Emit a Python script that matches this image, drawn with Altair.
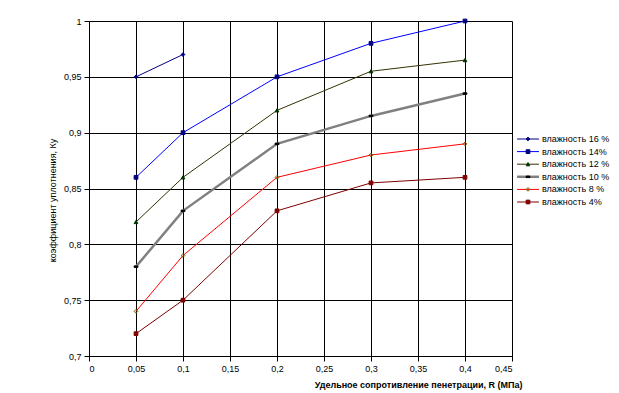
import altair as alt
import pandas as pd

series = ["влажность 16 %", "влажность 14%", "влажность 12 %",
          "влажность 10 %", "влажность 8 %", "влажность 4%"]
r16 = [0.05, 0.1]
k16 = [0.95, 0.97]
r_all = [0.05, 0.1, 0.2, 0.3, 0.4]
k14 = [0.86, 0.90, 0.95, 0.98, 1.0]
k12 = [0.82, 0.86, 0.92, 0.955, 0.965]
k10 = [0.78, 0.83, 0.89, 0.915, 0.935]
k8 = [0.74, 0.79, 0.86, 0.88, 0.89]
k4 = [0.72, 0.75, 0.83, 0.855, 0.86]

x_ticks = [0, 0.05, 0.1, 0.15, 0.2, 0.25, 0.3, 0.35, 0.4, 0.45]
y_ticks = [0.7, 0.75, 0.8, 0.85, 0.9, 0.95, 1.0]

line_colors = ["#000080", "#0000FF", "#333300", "#808080", "#FF0000", "#800000"]
shapes = ["diamond", "square", "triangle-up", "M-1,-0.4H1V0.4H-1Z", "diamond", "square"]
fills = ["#000080", "#000080", "#003300", "#000000", "transparent", "#800000"]
strokes = ["#000080", "#000080", "#003300", "#000000", "#666600", "#800000"]

rows = []
for name, xs, ys in [(series[0], r16, k16), (series[1], r_all, k14), (series[2], r_all, k12),
                     (series[3], r_all, k10), (series[4], r_all, k8), (series[5], r_all, k4)]:
    for x, y in zip(xs, ys):
        rows.append({"series": name, "R": x, "K": y})
df = pd.DataFrame(rows)
leg = pd.DataFrame({"series": series, "idx": list(range(len(series)))})

FONT = "Liberation Sans"

color = alt.Color("series:N", scale=alt.Scale(domain=series, range=line_colors), legend=None)
width_enc = alt.condition(alt.datum.series == series[3], alt.value(2.5), alt.value(1))
shape_enc = alt.Shape("series:N", scale=alt.Scale(domain=series, range=shapes), legend=None)
fill_enc = alt.Fill("series:N", scale=alt.Scale(domain=series, range=fills), legend=None)
stroke_enc = alt.Stroke("series:N", scale=alt.Scale(domain=series, range=strokes), legend=None)

xenc = alt.X("R:Q", scale=alt.Scale(domain=[0, 0.45], nice=False, zero=False),
             axis=alt.Axis(values=x_ticks, grid=True, gridColor="black", gridOpacity=1,
                           labelExpr="replace(format(datum.value, '~g'), '.', ',')",
                           title="Удельное сопротивление пенетрации, R (МПа)",
                           titleX=433, titleY=28, titleAlign="right", titleBaseline="middle",
                           titleFontWeight="bold", labelPadding=3))
yenc = alt.Y("K:Q", scale=alt.Scale(domain=[0.7, 1.0], nice=False, zero=False),
             axis=alt.Axis(values=y_ticks, grid=True, gridColor="black", gridOpacity=1,
                           labelExpr="replace(format(datum.value, '~g'), '.', ',')",
                           title="коэффициент уплотнения, Ку",
                           titleX=-37, titleY=179, titleAlign="center", titleBaseline="middle",
                           titleAngle=270, titleFontWeight="normal", labelPadding=3))

lines = alt.Chart(df).mark_line().encode(x=xenc, y=yenc, color=color, strokeWidth=width_enc,
                                          detail="series:N")
points = alt.Chart(df).mark_point(size=14, filled=False, strokeWidth=1, opacity=1).encode(
    x="R:Q", y="K:Q", shape=shape_enc, fill=fill_enc, stroke=stroke_enc)
main = alt.layer(lines, points)

ly = alt.Y("idx:Q", scale=alt.Scale(domain=[0, 5], range=[118, 181], nice=False, zero=False),
           axis=None)
leg_rule = alt.Chart(leg).mark_rule().encode(
    x=alt.value(428), x2=alt.value(450), y=ly, color=color, strokeWidth=width_enc)
leg_pts = alt.Chart(leg).mark_point(size=14, filled=False, strokeWidth=1, opacity=1).encode(
    x=alt.value(439), y=ly, shape=shape_enc, fill=fill_enc, stroke=stroke_enc)
leg_txt = alt.Chart(leg).mark_text(align="left", baseline="middle", font=FONT, fontSize=9,
                                   color="black").encode(
    x=alt.value(453), y=ly, text="series:N")
legend = alt.layer(leg_rule, leg_pts, leg_txt)

chart = alt.layer(main, legend).resolve_scale(y="independent").properties(
    width=423, height=335,
    autosize=alt.AutoSizeParams(type="none"),
    padding={"left": 81, "top": 13, "right": 99, "bottom": 37},
).configure_view(stroke=None).configure_axis(
    domainColor="black", tickColor="black", tickSize=5, labelColor="black",
    titleColor="black", labelFont=FONT, titleFont=FONT, labelFontSize=9, titleFontSize=9,
    domainWidth=1, gridWidth=1,
)

chart.save("out.html", embed_options={"renderer": "svg", "actions": False})
